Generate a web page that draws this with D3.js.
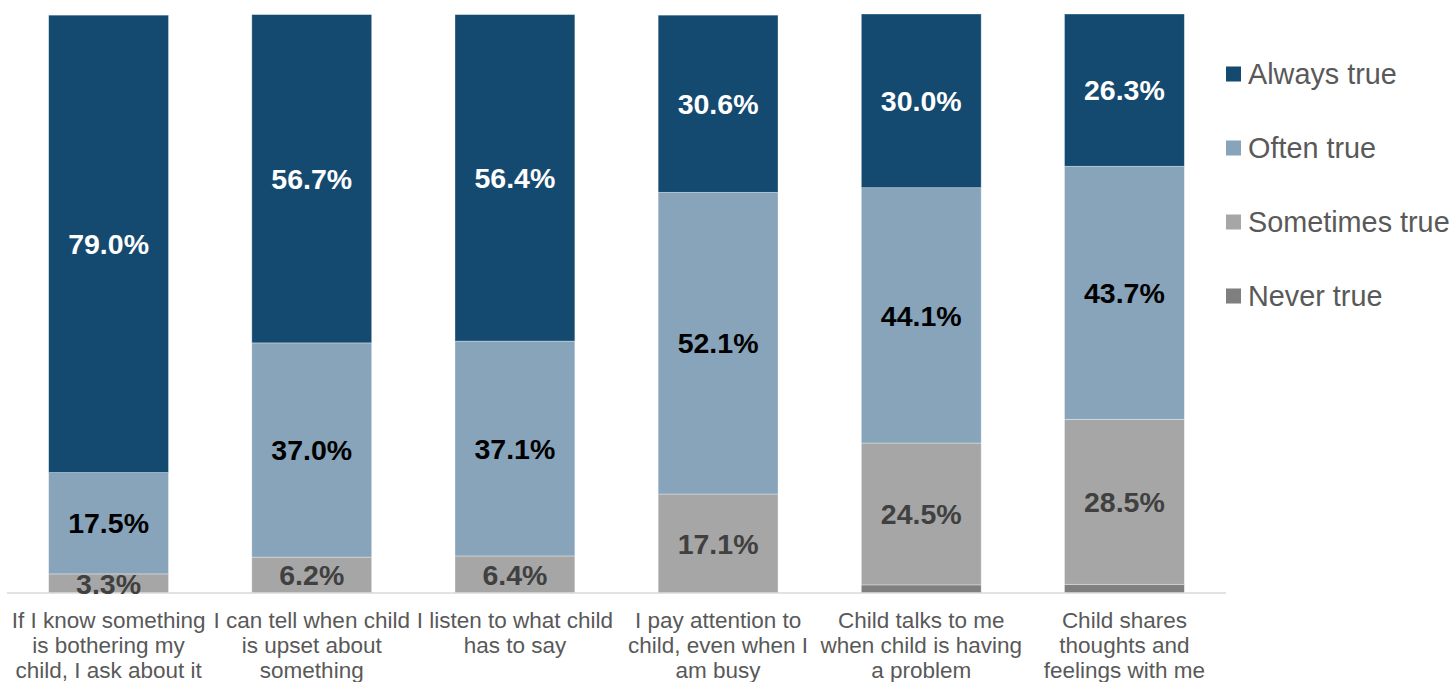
<!DOCTYPE html>
<html>
<head>
<meta charset="utf-8">
<script src="https://cdn.jsdelivr.net/npm/d3@7"></script>
<style>
  html, body { margin: 0; padding: 0; background: #fff; }
  svg { display: block; font-family: "Liberation Sans", Arial, sans-serif; }
</style>
</head>
<body>
<svg id="chart" width="1453" height="682"></svg>
<script>
// Survey statements (each entry is one wrapped axis label)
const categories = [
  ["If I know something", "is bothering my", "child, I ask about it"],
  ["I can tell when child", "is upset about", "something"],
  ["I listen to what child", "has to say"],
  ["I pay attention to", "child, even when I", "am busy"],
  ["Child talks to me", "when child is having", "a problem"],
  ["Child shares", "thoughts and", "feelings with me"]
];

// Response shares (%) per statement
const neverTrue     = [0, 0, 0, 0, 1.4, 1.5];
const sometimesTrue = [3.3, 6.2, 6.4, 17.1, 24.5, 28.5];
const oftenTrue     = [17.5, 37.0, 37.1, 52.1, 44.1, 43.7];
const alwaysTrue    = [79.0, 56.7, 56.4, 30.6, 30.0, 26.3];

const seriesNames = ["Never true", "Sometimes true", "Often true", "Always true"];
const legendOrder = ["Always true", "Often true", "Sometimes true", "Never true"];

const colors = {
  "Always true": "#154a70",
  "Often true": "#87a4ba",
  "Sometimes true": "#a6a6a6",
  "Never true": "#7f7f7f"
};
const labelColors = {
  "Always true": "#ffffff",
  "Often true": "#000000",
  "Sometimes true": "#404040",
  "Never true": null
};

const keys = categories.map((c, i) => "c" + i);
const rows = keys.map((k, i) => ({
  key: k,
  "Never true": neverTrue[i],
  "Sometimes true": sometimesTrue[i],
  "Often true": oftenTrue[i],
  "Always true": alwaysTrue[i]
}));

const svg = d3.select("#chart");

const x = d3.scaleBand()
  .domain(keys)
  .range([7, 1226])
  .paddingInner(0.41)
  .paddingOuter(0.205);

const y = d3.scaleLinear().domain([0, 100]).range([593, 14]);

const stacked = d3.stack().keys(seriesNames)(rows);

// Stacked segments
const layers = svg.append("g").selectAll("g")
  .data(stacked)
  .join("g")
  .attr("fill", d => colors[d.key]);

layers.selectAll("rect")
  .data(d => d.map(p => ({ p, key: d.key })))
  .join("rect")
  .attr("x", d => x(d.p.data.key))
  .attr("width", x.bandwidth())
  .attr("y", d => y(d.p[1]))
  .attr("height", d => Math.max(0, y(d.p[0]) - y(d.p[1])))
  .attr("stroke", "#ffffff")
  .attr("stroke-opacity", 0.45)
  .attr("stroke-width", 0.75);

// Axis baseline
svg.append("line")
  .attr("x1", 7).attr("x2", 1226)
  .attr("y1", y(0)).attr("y2", y(0))
  .attr("stroke", "#d9d9d9")
  .attr("stroke-width", 1.5);

// Segment value labels
const labelLayers = svg.append("g").selectAll("g")
  .data(stacked.filter(s => labelColors[s.key]))
  .join("g")
  .attr("fill", d => labelColors[d.key]);

labelLayers.selectAll("text")
  .data(d => d.map(p => ({ p, key: d.key })).filter(d => d.p[1] - d.p[0] > 0))
  .join("text")
  .attr("x", d => x(d.p.data.key) + x.bandwidth() / 2)
  .attr("y", d => (y(d.p[0]) + y(d.p[1])) / 2)
  .attr("dy", "0.36em")
  .attr("text-anchor", "middle")
  .attr("font-size", 28.5)
  .attr("font-weight", "bold")
  .text(d => (d.p[1] - d.p[0]).toFixed(1) + "%");

// Category labels
const xLabels = svg.append("g").selectAll("text")
  .data(categories.map((lines, i) => ({ lines, key: keys[i] })))
  .join("text")
  .attr("x", d => x(d.key) + x.bandwidth() / 2)
  .attr("y", 628)
  .attr("text-anchor", "middle")
  .attr("font-size", 22.5)
  .attr("fill", "#595959");

xLabels.selectAll("tspan")
  .data(d => d.lines.map(t => ({ t, cx: x(d.key) + x.bandwidth() / 2 })))
  .join("tspan")
  .attr("x", d => d.cx)
  .attr("dy", (d, i) => i === 0 ? 0 : 25)
  .text(d => d.t);

// Legend
const legend = svg.append("g").selectAll("g")
  .data(legendOrder)
  .join("g")
  .attr("transform", (d, i) => `translate(1226, ${74 + i * 74})`);

legend.append("rect")
  .attr("x", 0).attr("y", -7.5)
  .attr("width", 15).attr("height", 15)
  .attr("fill", d => colors[d]);

legend.append("text")
  .attr("x", 22)
  .attr("y", 0)
  .attr("dy", "0.36em")
  .attr("font-size", 28.8)
  .attr("fill", "#595959")
  .text(d => d);
</script>
</body>
</html>
